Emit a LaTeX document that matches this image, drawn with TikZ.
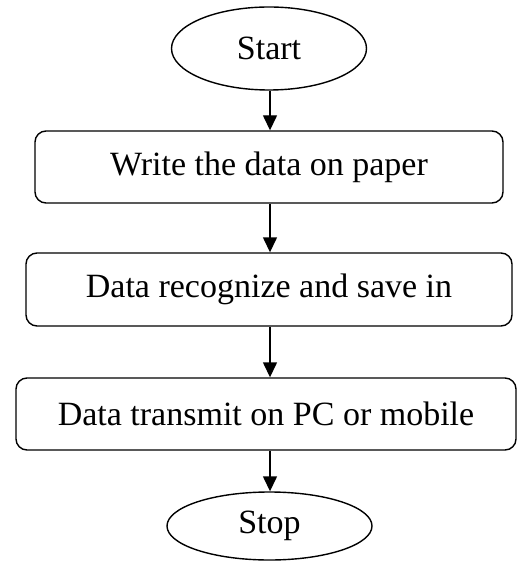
\documentclass[tikz,border=0pt]{standalone}
\usepackage{fontspec}
\setmainfont{Liberation Serif}
\usetikzlibrary{shapes.geometric,arrows.meta}
\begin{document}
\begin{tikzpicture}[x=1pt,y=-1pt,
  every node/.style={font=\fontsize{34}{40}\selectfont, line width=1.4pt, inner sep=0pt},
  term/.style={draw, ellipse},
  stepbox/.style={draw, rectangle, rounded corners=11pt},
  arr/.style={line width=1.4pt, -{Triangle[width=14pt,length=15pt]}}]
\useasboundingbox (0,0) rectangle (517,569);
\node[term, minimum width=195pt, minimum height=83pt] (start) at (269,48.5) {Start};
\node[stepbox, minimum width=468pt, minimum height=72pt] (s1) at (269,167) {Write the data on paper};
\node[stepbox, minimum width=486pt, minimum height=73pt] (s2) at (269,289.5) {Data recognize and save in};
\node[stepbox, minimum width=500pt, minimum height=72pt] (s3) at (266,414) {Data transmit on PC or mobile};
\node[term, minimum width=205pt, minimum height=68pt] (stop) at (269.5,526) {Stop};
\draw[arr] (start.south -| 270,0) -- (s1.north -| 270,0);
\draw[arr] (s1.south -| 270,0) -- (s2.north -| 270,0);
\draw[arr] (s2.south -| 270,0) -- (s3.north -| 270,0);
\draw[arr] (s3.south -| 270,0) -- (stop.north -| 270,0);
\end{tikzpicture}
\end{document}
